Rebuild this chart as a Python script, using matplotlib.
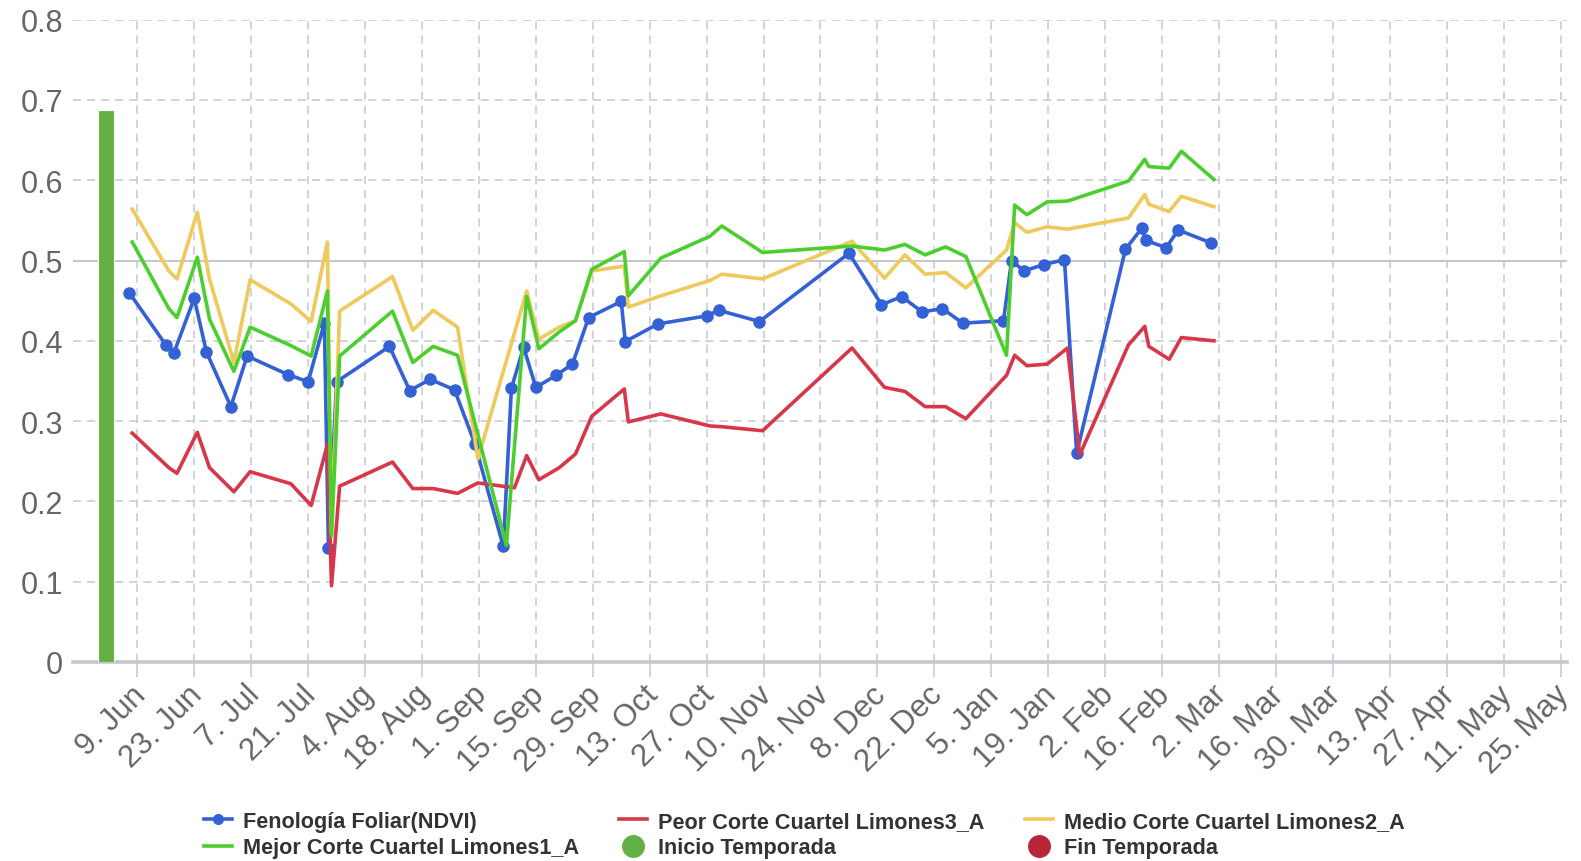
import matplotlib
matplotlib.use("Agg")
import matplotlib.pyplot as plt
import matplotlib.transforms as mtransforms
from matplotlib.lines import Line2D
import pandas as pd

plt.rcParams['font.family'] = ['Liberation Sans', 'DejaVu Sans']

# fechas de las imagenes (NDVI); los cortes vienen con un pequeño desfase
fechas = pd.to_datetime([
    "2024-06-07", "2024-06-16", "2024-06-18", "2024-06-23", "2024-06-26", "2024-07-02",
    "2024-07-06", "2024-07-16", "2024-07-21", "2024-07-25", "2024-07-26", "2024-07-28",
    "2024-08-10", "2024-08-15", "2024-08-20", "2024-08-26", "2024-08-31", "2024-09-07",
    "2024-09-09", "2024-09-12", "2024-09-15", "2024-09-20", "2024-09-24", "2024-09-28",
    "2024-10-06", "2024-10-07", "2024-10-15", "2024-10-27", "2024-10-30", "2024-11-09",
    "2024-12-01", "2024-12-09", "2024-12-14", "2024-12-19", "2024-12-24", "2024-12-29",
    "2025-01-08", "2025-01-10", "2025-01-13", "2025-01-18", "2025-01-23", "2025-01-26",
    "2025-02-07", "2025-02-11", "2025-02-12", "2025-02-17", "2025-02-20", "2025-02-28",
])
desfase_cortes = pd.Timedelta(hours=18)

ndvi = [0.46, 0.395, 0.385, 0.453, 0.386, 0.318, 0.381, 0.358, 0.349, 0.422, 0.142, 0.349,
        0.393, 0.338, 0.352, 0.339, 0.272, 0.144, 0.341, 0.392, 0.342, 0.357, 0.371, 0.429,
        0.449, 0.399, 0.421, 0.431, 0.438, 0.424, 0.509, 0.445, 0.455, 0.436, 0.44, 0.422,
        0.425, 0.5, 0.487, 0.495, 0.501, 0.26, 0.514, 0.54, 0.525, 0.516, 0.538, 0.522]
mejor = [0.523, 0.44, 0.429, 0.504, 0.427, 0.362, 0.417, 0.394, 0.381, 0.462, 0.157, 0.381,
         0.437, 0.373, 0.393, 0.382, None, 0.145, None, 0.455, 0.39, 0.411, 0.425, 0.489,
         0.511, 0.456, 0.503, 0.53, 0.543, 0.51, 0.518, 0.513, 0.52, 0.507, 0.517, 0.505,
         0.382, 0.569, 0.557, 0.573, 0.574, None, 0.599, 0.626, 0.617, 0.615, 0.636, 0.601]
medio = [0.564, 0.487, 0.477, 0.56, 0.477, 0.373, 0.476, 0.446, 0.424, 0.523, 0.16, 0.437,
         0.48, 0.413, 0.438, 0.417, 0.253, None, None, 0.462, 0.402, 0.417, 0.425, 0.487,
         0.493, 0.442, 0.456, 0.475, 0.483, 0.477, 0.524, 0.478, 0.507, 0.483, 0.485, 0.466,
         0.513, 0.547, 0.535, 0.542, 0.539, None, 0.553, 0.582, 0.57, 0.561, 0.58, 0.567]
peor = [0.285, 0.242, 0.235, 0.286, 0.242, 0.212, 0.237, 0.222, 0.195, 0.271, 0.095, 0.219,
        0.249, 0.216, 0.216, 0.21, 0.223, None, 0.217, 0.257, 0.227, 0.242, 0.259, 0.306,
        0.34, 0.299, 0.309, 0.294, 0.293, 0.288, 0.391, 0.342, 0.337, 0.318, 0.318, 0.303,
        0.357, 0.382, 0.369, 0.371, 0.391, 0.258, 0.395, 0.418, 0.393, 0.377, 0.404, 0.40]

inicio_fecha = pd.Timestamp("2024-06-01 08:00")
inicio_valor = 0.688

nombres = ["Fenología Foliar(NDVI)", "Peor Corte Cuartel Limones3_A",
           "Medio Corte Cuartel Limones2_A", "Mejor Corte Cuartel Limones1_A",
           "Inicio Temporada", "Fin Temporada"]
colores = ["#3461d5", "#d7374b", "#efc95c", "#4ccf2e", "#63b045", "#b8243a"]

xmin = pd.Timestamp("2024-05-24 02:00")
xmax = pd.Timestamp("2025-05-26 14:00")
ticks_x = pd.date_range("2024-06-09", "2025-05-25", freq="14D")
ticks_y = [0, 0.1, 0.2, 0.3, 0.4, 0.5, 0.6, 0.7, 0.8]

gris = "#c4c8cd"
texto = "#666666"


def serie(x, y):
    pares = [(a, b) for a, b in zip(x, y) if b is not None]
    return [p[0] for p in pares], [p[1] for p in pares]


fig = plt.figure(figsize=(15.81, 8.62), dpi=100)
W, H = 1581, 862
ax = fig.add_axes([72.6 / W, 1 - 663 / H, (1567 - 72.6) / W, (663 - 20.6) / H])

ax.bar(inicio_fecha, inicio_valor, width=4.1, color=colores[4], edgecolor="white",
       linewidth=0.8, zorder=2)

ax.plot(fechas, ndvi, color=colores[0], lw=2.6, marker="o", ms=8, mec=colores[0],
        zorder=3)
x, y = serie(fechas + desfase_cortes, peor)
ax.plot(x, y, color=colores[1], lw=2.6, zorder=4)
x, y = serie(fechas + desfase_cortes, medio)
ax.plot(x, y, color=colores[2], lw=2.6, zorder=5)
x, y = serie(fechas + desfase_cortes, mejor)
ax.plot(x, y, color=colores[3], lw=2.6, zorder=6)

ax.set_xlim(xmin, xmax)
ax.set_ylim(0, 0.8)
ax.set_xticks(ticks_x)
ax.set_xticklabels([f"{d.day}. {d.strftime('%b')}" for d in ticks_x])
ax.set_yticks(ticks_y)
ax.set_yticklabels(["0" if v == 0 else f"{v:.1f}" for v in ticks_y])

ax.grid(True, color=gris, lw=1.1, ls=(0, (5.3, 3.9)), zorder=0)
ax.axhline(0.5, color=gris, lw=1.5, zorder=1)
ax.set_axisbelow(True)

for s in ["top", "right", "left"]:
    ax.spines[s].set_visible(False)
ax.spines["bottom"].set_color(gris)
ax.spines["bottom"].set_linewidth(2.6)
ax.spines["bottom"].set_zorder(1)

ax.tick_params(axis="y", length=0, pad=7, labelsize=22, labelcolor=texto)
ax.tick_params(axis="x", length=11, width=1.1, color=gris, pad=1.5, labelsize=22.5,
               labelcolor=texto)
desplaza = mtransforms.ScaledTranslation(-5 / 72, 0, fig.dpi_scale_trans)
for lab in ax.get_xticklabels():
    lab.set_rotation(45)
    lab.set_ha("right")
    lab.set_va("top")
    lab.set_rotation_mode("anchor")
    lab.set_transform(lab.get_transform() + desplaza)

manejadores = [
    Line2D([], [], color=colores[0], lw=2.6, marker="o", ms=7),
    Line2D([], [], color=colores[3], lw=2.6),
    Line2D([], [], color=colores[1], lw=2.6),
    Line2D([], [], ls="none", marker="o", ms=15.5, color=colores[4]),
    Line2D([], [], color=colores[2], lw=2.6),
    Line2D([], [], ls="none", marker="o", ms=15.5, color=colores[5]),
]
etiquetas = [nombres[0], nombres[3], nombres[1], nombres[4], nombres[2], nombres[5]]
leg = fig.legend(manejadores, etiquetas, ncol=3, loc="upper left",
                 bbox_to_anchor=(204 / W, 1 - 812 / H), frameon=False, numpoints=1,
                 prop={"weight": "bold", "size": 15.6}, handlelength=1.3,
                 handletextpad=0.5, columnspacing=1.85, labelspacing=0.25,
                 borderpad=0, borderaxespad=0)
for t in leg.get_texts():
    t.set_color("#333333")

fig.savefig("out.png", dpi=100)
